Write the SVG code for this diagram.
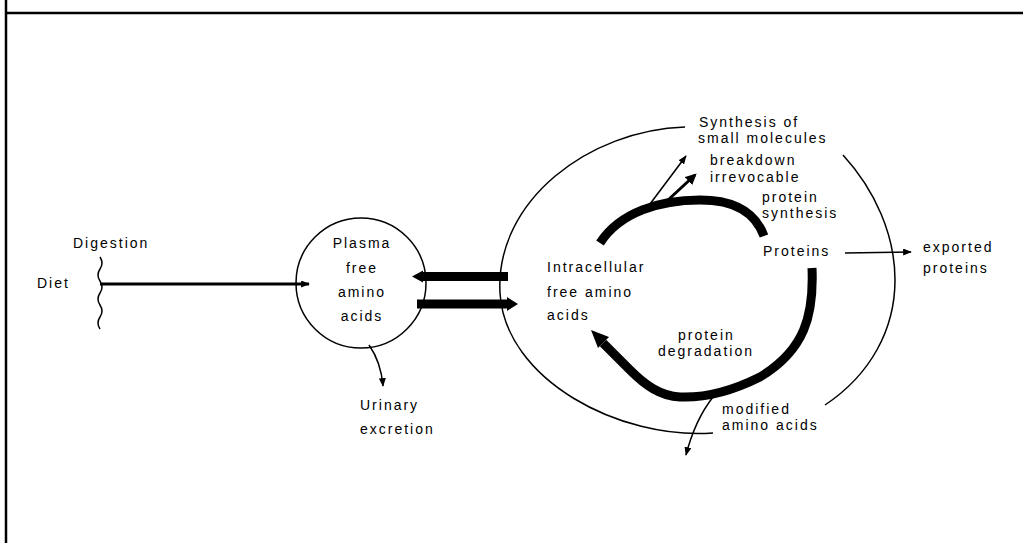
<svg xmlns="http://www.w3.org/2000/svg" width="1023" height="543" viewBox="0 0 1023 543">
<style>
.t{font-family:"Liberation Sans",Arial,Helvetica,sans-serif;font-size:14px;letter-spacing:2px;fill:#000}
.thin{fill:none;stroke:#000;stroke-width:1.5}
.med{fill:none;stroke:#000;stroke-width:3}
.thick{fill:none;stroke:#000;stroke-width:9}
.solid{fill:#000;stroke:none}
</style>
<defs>
<marker id="ah" markerUnits="userSpaceOnUse" viewBox="0 0 10 8" refX="9" refY="4" markerWidth="9" markerHeight="7" orient="auto">
<path d="M0,0 L10,4 L0,8 Z" fill="#000"/>
</marker>
<marker id="ahb" markerUnits="userSpaceOnUse" viewBox="0 0 10 10" refX="8" refY="5" markerWidth="11" markerHeight="11" orient="auto">
<path d="M0,0 L10,5 L0,10 Z" fill="#000"/>
</marker>
</defs>
<rect x="0" y="0" width="1023" height="543" fill="#fff"/>
<g id="frame">
<line x1="6" y1="0" x2="6" y2="543" stroke="#000" stroke-width="2.5"/>
<line x1="6" y1="13" x2="1023" y2="13" stroke="#000" stroke-width="2.5"/>
</g>
<g id="diet"><text class="t" x="37" y="288">Diet</text></g>
<g id="digestion"><text class="t" x="73" y="248">Digestion</text>
<path class="thin" d="M100,257 q4,6 0,12 q-4,6 0,12 q4,6 0,12 q-4,6 0,12 q4,6 0,12 q-4,6 0,12"/></g>
<g id="plasma">
<circle cx="361" cy="283" r="65" fill="none" stroke="#000" stroke-width="1.5"/>
<text class="t" x="362" y="248" text-anchor="middle">Plasma</text>
<text class="t" x="362" y="273" text-anchor="middle">free</text>
<text class="t" x="362" y="297" text-anchor="middle">amino</text>
<text class="t" x="362" y="321" text-anchor="middle">acids</text>
</g>
<g id="urinary">
<text class="t" x="360" y="410">Urinary</text>
<text class="t" x="360" y="434">excretion</text>
</g>
<g id="intracellular">
<path class="thin" d="M843,155 C875,190 895,235 895,280 C895,330 870,375 825,405"/>
<path class="thin" d="M713,433 C620,440 505,380 500,293 C495,200 590,130 685,127"/>
<text class="t" x="547" y="272">Intracellular</text>
<text class="t" x="547" y="297">free amino</text>
<text class="t" x="547" y="320">acids</text>
</g>
<g id="synthesis-small">
<text class="t" x="699" y="127">Synthesis of</text>
<text class="t" x="698" y="143">small molecules</text>
</g>
<g id="breakdown">
<text class="t" x="710" y="165">breakdown</text>
<text class="t" x="710" y="182">irrevocable</text>
</g>
<g id="protein-synthesis">
<text class="t" x="762" y="202">protein</text>
<text class="t" x="762" y="218">synthesis</text>
</g>
<g id="proteins"><text class="t" x="763" y="256">Proteins</text></g>
<g id="exported">
<text class="t" x="923" y="252">exported</text>
<text class="t" x="923" y="273">proteins</text>
</g>
<g id="protein-degradation">
<text class="t" x="678" y="340">protein</text>
<text class="t" x="658" y="356">degradation</text>
</g>
<g id="modified">
<text class="t" x="722" y="414">modified</text>
<text class="t" x="722" y="430">amino acids</text>
</g>
<g id="connectors">
<path class="med" d="M100,284 L309,284" marker-end="url(#ah)"/>
<path class="solid" d="M508,272 L423,272 L423,270.5 L412,276.5 L423,282.5 L423,281 L508,281 Z"/>
<path class="solid" d="M417,299.5 L507,299.5 L507,297 L518,304 L507,311 L507,308.5 L417,308.5 Z"/>
<path class="thin" d="M369,345 Q381,362 383,386" marker-end="url(#ah)"/>
<path class="thick" d="M600,243 C620,212 660,200 700,200 C735,200 755,212 764,236"/>
<path class="thin" d="M650,204 L686,156" marker-end="url(#ah)"/>
<path class="med" d="M668,200 L695,175" stroke-width="4" marker-end="url(#ahb)"/>
<path class="thick" d="M812,268 C814,315 805,350 760,377 C730,392 705,398 680,397 C660,396 645,385 630,370 L603,343"/>
<path class="solid" d="M591,330 L609,337 L598,348 Z"/>
<path class="thin" d="M713,397 Q695,420 686,455" marker-end="url(#ah)"/>
<path class="thin" d="M845,253 L911,252" marker-end="url(#ah)"/>
</g>
</svg>
